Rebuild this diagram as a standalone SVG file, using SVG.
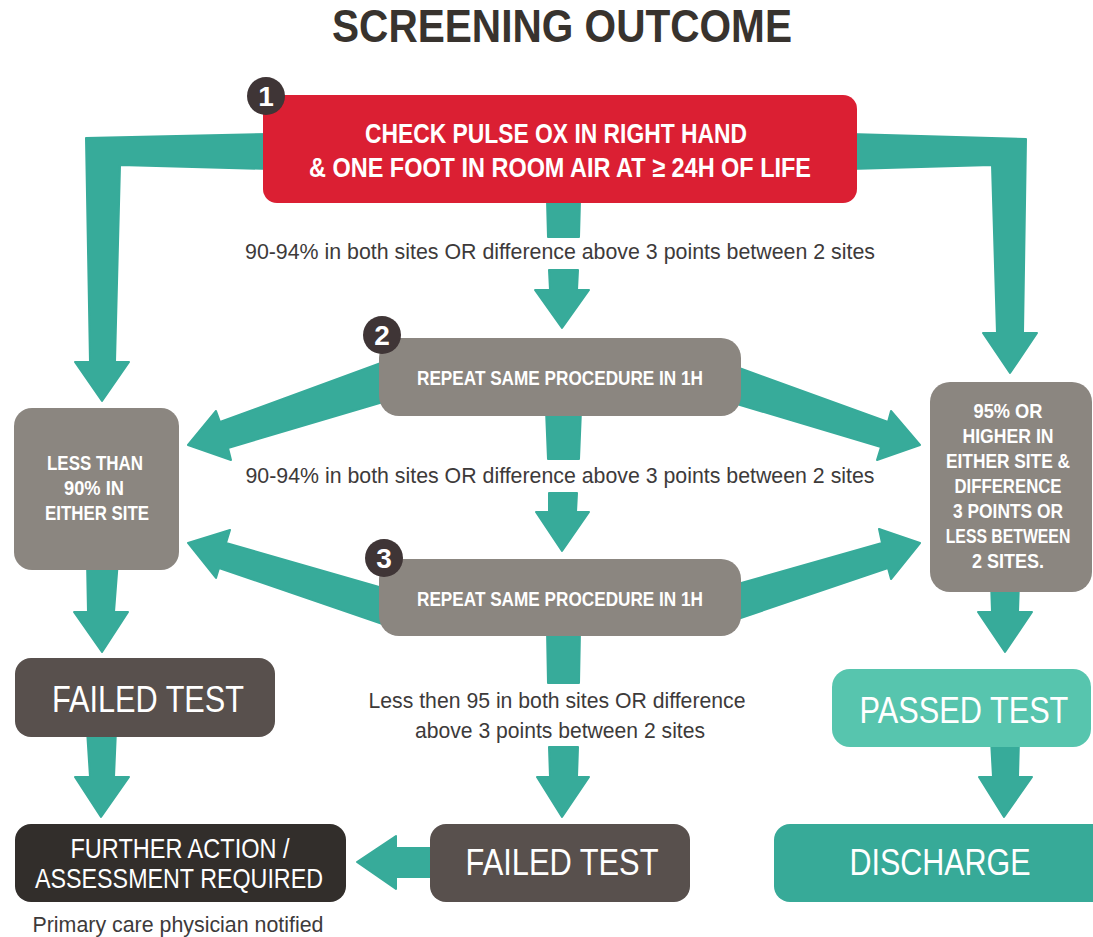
<svg xmlns="http://www.w3.org/2000/svg" width="1093" height="937" viewBox="0 0 1093 937">
<style>
.arr{fill:#37ab9a;stroke:#37ab9a;stroke-width:2;stroke-linejoin:round}
.bx{font-family:"Liberation Sans",Arial,sans-serif;font-weight:bold;fill:#fff;text-anchor:middle}
.big{font-family:"Liberation Sans",Arial,sans-serif;fill:#fff;text-anchor:middle}
.lbl{font-family:"Liberation Sans",Arial,sans-serif;fill:#3d3a3a;text-anchor:middle}
.badge circle{fill:#3f3536}
.badge text{font-family:"Liberation Sans",Arial,sans-serif;font-weight:bold;fill:#fff;text-anchor:middle;font-size:28px}
</style>
<rect width="1093" height="937" fill="#fff"/>
<text x="562" y="42" font-family="Liberation Sans, Arial, sans-serif" font-weight="bold" font-size="47" fill="#38332e" text-anchor="middle" textLength="460" lengthAdjust="spacingAndGlyphs">SCREENING OUTCOME</text>

<g id="connectors">
<polygon class="arr" points="270,134 86,138 90,362 75,362 102,401 129,362 115,362 120,165 270,169"/>
<polygon class="arr" points="850,134 1026,139 1023,333 1037,333 1010,373 983,333 997,333 992,165 850,169"/>
<polygon class="arr" points="547,200 580,200 579,237 548,237"/>
<polygon class="arr" points="549,270 578,270 577,290 589,290 562,328 535,290 550,290"/>
<polygon class="arr" points="546,410 581,410 579,459 548,459"/>
<polygon class="arr" points="549,493 577,493 576,512 589,512 562,551 536,512 549,512"/>
<polygon class="arr" points="547,630 580,630 579,683 548,683"/>
<polygon class="arr" points="549,747 578,747 577,777 589,777 562,817 537,777 550,777"/>
<polygon class="arr" points="400,356 220,422 216,411 188,445 231,460 228,448 400,397"/>
<polygon class="arr" points="720,361 888,422 891,411 920,445 877,460 881,447 720,399"/>
<polygon class="arr" points="400,593 226,543 230,530 188,543 216,578 219,568 400,630"/>
<polygon class="arr" points="720,589 882,543 879,529 920,543 891,579 888,568 720,625"/>
<polygon class="arr" points="87,560 118,560 114,612 128,612 102,652 74,612 88,612"/>
<polygon class="arr" points="991,582 1019,582 1018,612 1032,612 1005,652 978,612 992,612"/>
<polygon class="arr" points="87,730 116,730 114,777 129,777 101,817 75,777 90,777"/>
<polygon class="arr" points="991,740 1019,740 1018,777 1032,777 1004,817 979,777 993,777"/>
<polygon class="arr" points="440,848 396,848 396,836 357,862 396,889 396,877 440,877"/>
</g>

<g id="n1">
<rect x="263" y="95" width="594" height="108" rx="14" fill="#db1f33"/>
<text class="bx" x="556" y="143" font-size="28" textLength="382" lengthAdjust="spacingAndGlyphs">CHECK PULSE OX IN RIGHT HAND</text>
<text class="bx" x="560" y="177" font-size="28" textLength="502" lengthAdjust="spacingAndGlyphs">&amp; ONE FOOT IN ROOM AIR AT ≥ 24H OF LIFE</text>
</g>
<g id="n2">
<rect x="379" y="338" width="362" height="78" rx="20" fill="#8b8680"/>
<text class="bx" x="560" y="385" font-size="21" textLength="286" lengthAdjust="spacingAndGlyphs">REPEAT SAME PROCEDURE IN 1H</text>
</g>
<g id="n3">
<rect x="379" y="559" width="362" height="77" rx="20" fill="#8b8680"/>
<text class="bx" x="560" y="606" font-size="21" textLength="286" lengthAdjust="spacingAndGlyphs">REPEAT SAME PROCEDURE IN 1H</text>
</g>
<g id="n-less">
<rect x="14" y="408" width="165" height="162" rx="18" fill="#8b8680"/>
<text class="bx" x="95" y="470" font-size="21" textLength="96" lengthAdjust="spacingAndGlyphs">LESS THAN</text>
<text class="bx" x="94" y="495" font-size="21" textLength="60" lengthAdjust="spacingAndGlyphs">90% IN</text>
<text class="bx" x="97" y="520" font-size="21" textLength="104" lengthAdjust="spacingAndGlyphs">EITHER SITE</text>
</g>
<g id="n-high">
<rect x="930" y="382" width="162" height="210" rx="20" fill="#8b8680"/>
<text class="bx" x="1008" y="418" font-size="20" textLength="69" lengthAdjust="spacingAndGlyphs">95% OR</text>
<text class="bx" x="1008" y="443" font-size="20" textLength="91" lengthAdjust="spacingAndGlyphs">HIGHER IN</text>
<text class="bx" x="1008" y="468" font-size="20" textLength="124" lengthAdjust="spacingAndGlyphs">EITHER SITE &amp;</text>
<text class="bx" x="1008" y="493" font-size="20" textLength="107" lengthAdjust="spacingAndGlyphs">DIFFERENCE</text>
<text class="bx" x="1008" y="518" font-size="20" textLength="110" lengthAdjust="spacingAndGlyphs">3 POINTS OR</text>
<text class="bx" transform="translate(1008,543) scale(0.79,1)" x="0" y="0" font-size="20">LESS BETWEEN</text>
<text class="bx" x="1008" y="568" font-size="20" textLength="72" lengthAdjust="spacingAndGlyphs">2 SITES.</text>
</g>
<g id="n-failed1">
<rect x="15" y="658" width="260" height="79" rx="16" fill="#58504d"/>
<text class="big" x="148" y="712" font-size="37" textLength="192" lengthAdjust="spacingAndGlyphs">FAILED TEST</text>
</g>
<g id="n-passed">
<rect x="832" y="669" width="259" height="78" rx="18" fill="#57c5ae"/>
<text class="big" transform="translate(964,723) scale(0.83,1)" x="0" y="0" font-size="37">PASSED TEST</text>
</g>
<g id="n-further">
<rect x="15" y="824" width="331" height="78" rx="16" fill="#322e2b"/>
<text class="big" x="180" y="858" font-size="28" textLength="219" lengthAdjust="spacingAndGlyphs">FURTHER ACTION /</text>
<text class="big" x="179" y="888" font-size="28" textLength="288" lengthAdjust="spacingAndGlyphs">ASSESSMENT REQUIRED</text>
</g>
<g id="n-failed2">
<rect x="430" y="824" width="260" height="78" rx="16" fill="#58504d"/>
<text class="big" x="562" y="875" font-size="37" textLength="193" lengthAdjust="spacingAndGlyphs">FAILED TEST</text>
</g>
<g id="n-discharge">
<rect x="774" y="824" width="340" height="78" rx="16" fill="#37aa98"/>
<text class="big" x="940" y="875" font-size="37" textLength="181" lengthAdjust="spacingAndGlyphs">DISCHARGE</text>
</g>

<g id="badges">
<g class="badge"><circle cx="266" cy="96" r="19"/><text x="266" y="106">1</text></g>
<g class="badge"><circle cx="382" cy="335" r="19"/><text x="382" y="345">2</text></g>
<g class="badge"><circle cx="384" cy="558" r="19"/><text x="384" y="568">3</text></g>
</g>

<g id="labels">
<text class="lbl" x="560" y="259" font-size="22" textLength="630" lengthAdjust="spacingAndGlyphs">90-94% in both sites OR difference above 3 points between 2 sites</text>
<text class="lbl" x="560" y="483" font-size="22" textLength="629" lengthAdjust="spacingAndGlyphs">90-94% in both sites OR difference above 3 points between 2 sites</text>
<text class="lbl" x="557" y="708" font-size="22" textLength="377" lengthAdjust="spacingAndGlyphs">Less then 95 in both sites OR difference</text>
<text class="lbl" x="560" y="738" font-size="22" textLength="290" lengthAdjust="spacingAndGlyphs">above 3 points between 2 sites</text>
<text class="lbl" x="178" y="932" font-size="22" textLength="291" lengthAdjust="spacingAndGlyphs">Primary care physician notified</text>
</g>
</svg>
